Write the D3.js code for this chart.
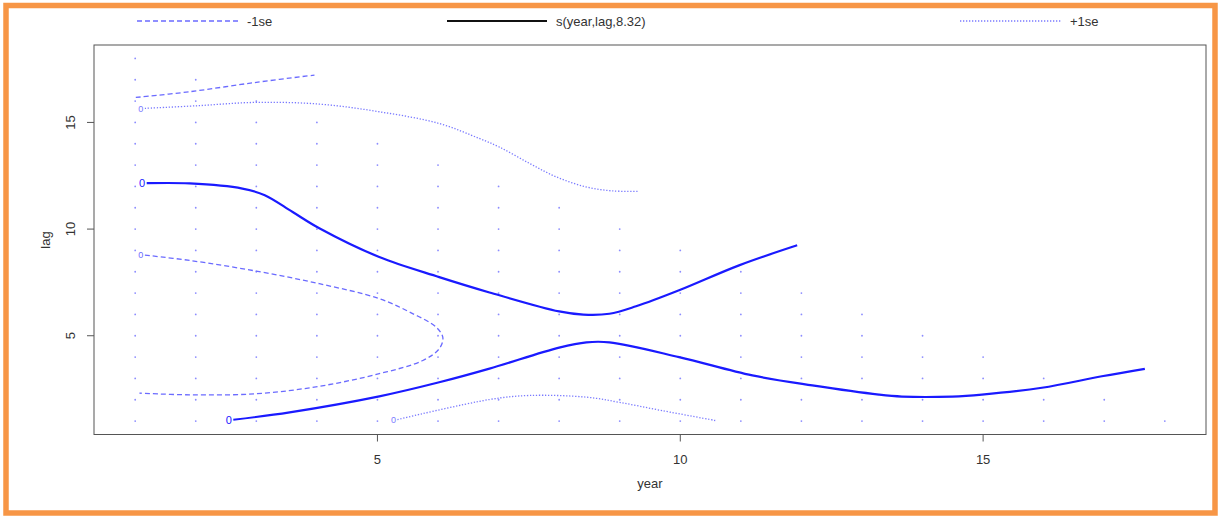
<!DOCTYPE html>
<html>
<head>
<meta charset="utf-8">
<script src="https://cdn.jsdelivr.net/npm/d3@7"></script>
<style>
  body { margin: 0; background: #fff; }
  text { font-family: "Liberation Sans", Arial, sans-serif; fill: #333; }
</style>
</head>
<body>
<div id="chart"></div>
<script>
// data points (year, lag): for each year, the highest lag with an observation
var gridYears = [1,2,3,4,5,6,7,8,9,10,11,12,13,14,15,16,17,18];
var gridTop   = [18,17,16,15,14,13,12,11,10,9,8,7,6,5,4,3,2,1];

// contour of s(year,lag,8.32) at 0, two pieces
var fitUpper = [[1.19,12.15],[1.90,12.14],[2.77,11.90],[3.14,11.59],[3.60,10.80],[4.04,10.04],
  [5.03,8.69],[6.02,7.75],[6.85,7.03],[8.00,6.14],[8.40,5.99],[8.83,6.03],[9.27,6.38],
  [9.98,7.13],[10.97,8.30],[11.93,9.24]];
var fitLower = [[2.62,1.06],[3.55,1.41],[5.03,2.16],[6.02,2.82],[6.85,3.46],[8.00,4.44],
  [8.45,4.69],[8.83,4.69],[9.98,4.00],[11.19,3.14],[12.18,2.67],[13.28,2.24],[13.66,2.15],
  [14.49,2.15],[14.98,2.24],[15.97,2.56],[16.96,3.10],[17.67,3.45]];

// -1se contour (dashed)
var minusTop = [[1.01,16.17],[1.90,16.44],[3.00,16.88],[3.96,17.22]];
var minusLoop = [[1.16,8.78],[1.90,8.53],[3.00,8.03],[4.04,7.44],[5.03,6.74],[5.53,6.11],
  [5.97,5.40],[6.08,4.91],[6.02,4.39],[5.75,3.84],[5.03,3.22],[4.04,2.63],[3.00,2.28],
  [1.90,2.23],[1.07,2.31]];

// +1se contour (dotted)
var plusTop = [[1.16,15.66],[2.01,15.78],[3.00,15.94],[4.04,15.86],[5.03,15.50],[6.02,14.95],
  [6.68,14.25],[7.01,13.85],[7.51,13.08],[7.95,12.45],[8.44,11.98],[8.88,11.79],[9.31,11.77]];
var plusLow = [[5.33,1.07],[6.85,2.01],[7.51,2.20],[8.45,2.12],[8.99,1.88],[9.70,1.49],[10.59,1.02]];

var xTicks = [5, 10, 15];
var yTicks = [5, 10, 15];
var legendLabels = ["-1se", "s(year,lag,8.32)", "+1se"];

var W = 1221, H = 519;
var svg = d3.select("#chart").append("svg")
    .attr("width", W)
    .attr("height", H);

// orange frame
svg.append("rect")
    .attr("x", 6).attr("y", 5.5)
    .attr("width", 1209).attr("height", 507.5)
    .attr("fill", "none")
    .attr("stroke", "#f79646")
    .attr("stroke-width", 5.5);

var box = {left: 94, right: 1206, top: 45, bottom: 434.5};

var x = d3.scaleLinear().domain([0.32, 18.68]).range([box.left, box.right]);
var y = d3.scaleLinear().domain([0.37, 18.63]).range([box.bottom, box.top]);

// data points
var pts = [];
gridYears.forEach(function(yr, i) {
  for (var l = 1; l <= gridTop[i]; l++) pts.push([yr, l]);
});
svg.append("g").selectAll("circle")
    .data(pts)
    .enter().append("circle")
    .attr("cx", function(d) { return x(d[0]); })
    .attr("cy", function(d) { return y(d[1]); })
    .attr("r", 0.9)
    .attr("fill", "#8c8cff");

var line = d3.line()
    .x(function(d) { return x(d[0]); })
    .y(function(d) { return y(d[1]); })
    .curve(d3.curveCatmullRom);

var styles = {
  fit:   {stroke: "#1a1aff", width: 2.2, dash: null},
  minus: {stroke: "#6b6bff", width: 1.3, dash: "5,3"},
  plus:  {stroke: "#7a7aff", width: 1.3, dash: "1.3,1.7"}
};

var contours = [
  {pts: fitUpper, s: styles.fit, label: true, size: 11},
  {pts: fitLower, s: styles.fit, label: true, size: 11},
  {pts: minusTop, s: styles.minus, label: false},
  {pts: minusLoop, s: styles.minus, label: true, size: 9},
  {pts: plusTop, s: styles.plus, label: true, size: 9},
  {pts: plusLow, s: styles.plus, label: true, size: 9}
];

var cg = svg.append("g");
contours.forEach(function(c) {
  cg.append("path")
      .attr("d", line(c.pts))
      .attr("fill", "none")
      .attr("stroke", c.s.stroke)
      .attr("stroke-width", c.s.width)
      .attr("stroke-dasharray", c.s.dash);
  if (c.label) {
    cg.append("text")
        .attr("x", x(c.pts[0][0]) - 1.5)
        .attr("y", y(c.pts[0][1]))
        .attr("dy", "0.35em")
        .attr("text-anchor", "end")
        .style("fill", c.s.stroke)
        .style("font-size", c.size + "px")
        .text("0");
  }
});

// box
svg.append("rect")
    .attr("x", box.left).attr("y", box.top)
    .attr("width", box.right - box.left).attr("height", box.bottom - box.top)
    .attr("fill", "none")
    .attr("stroke", "#555")
    .attr("stroke-width", 1);

// x axis
var xAxis = svg.append("g").attr("transform", "translate(0," + box.bottom + ")");
xAxis.selectAll("line").data(xTicks).enter().append("line")
    .attr("x1", function(d) { return x(d); }).attr("x2", function(d) { return x(d); })
    .attr("y1", 0).attr("y2", 7)
    .attr("stroke", "#555");
xAxis.selectAll("text").data(xTicks).enter().append("text")
    .attr("x", function(d) { return x(d); })
    .attr("y", 29)
    .attr("text-anchor", "middle")
    .style("font-size", "13px")
    .text(function(d) { return d; });

// y axis
var yAxis = svg.append("g").attr("transform", "translate(" + box.left + ",0)");
yAxis.selectAll("line").data(yTicks).enter().append("line")
    .attr("x1", -7).attr("x2", 0)
    .attr("y1", function(d) { return y(d); }).attr("y2", function(d) { return y(d); })
    .attr("stroke", "#555");
yAxis.selectAll("text").data(yTicks).enter().append("text")
    .attr("transform", function(d) { return "translate(-19," + y(d) + ") rotate(-90)"; })
    .attr("text-anchor", "middle")
    .style("font-size", "13px")
    .text(function(d) { return d; });

svg.append("text")
    .attr("x", 650).attr("y", 488)
    .attr("text-anchor", "middle")
    .style("font-size", "13px")
    .text("year");
svg.append("text")
    .attr("transform", "translate(50,240) rotate(-90)")
    .attr("text-anchor", "middle")
    .style("font-size", "13px")
    .text("lag");

// legend
var legendItems = [
  {x1: 137, x2: 238, tx: 247, stroke: "#6b6bff", width: 1.3, dash: "5,3"},
  {x1: 447, x2: 547, tx: 556, stroke: "#111", width: 2.2, dash: null},
  {x1: 960, x2: 1062, tx: 1070, stroke: "#7a7aff", width: 1.3, dash: "1.3,1.7"}
];
var lg = svg.append("g");
legendItems.forEach(function(d, i) {
  lg.append("line")
      .attr("x1", d.x1).attr("x2", d.x2)
      .attr("y1", 21).attr("y2", 21)
      .attr("stroke", d.stroke)
      .attr("stroke-width", d.width)
      .attr("stroke-dasharray", d.dash);
  lg.append("text")
      .attr("x", d.tx).attr("y", 21)
      .attr("dy", "0.35em")
      .style("font-size", "13px")
      .text(legendLabels[i]);
});
</script>
</body>
</html>
